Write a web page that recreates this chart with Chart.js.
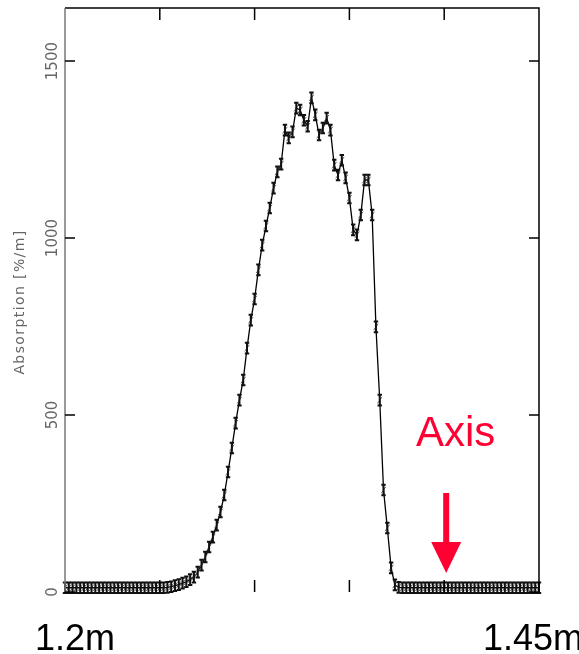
<!DOCTYPE html>
<html>
<head>
<meta charset="utf-8">
<script src="https://cdn.jsdelivr.net/npm/chart.js@4/dist/chart.umd.min.js"></script>
<style>
  html,body{margin:0;padding:0;background:#fff;overflow:hidden;}
  canvas{display:block;}
</style>
</head>
<body>
<canvas id="c" width="579" height="654"></canvas>
<script>
// position along the beam [m]
const xs = [
  1.200,1.202,1.204,1.206,1.208,1.210,1.212,1.214,1.216,1.218,
  1.220,1.222,1.224,1.226,1.228,1.230,1.232,1.234,1.236,1.238,
  1.240,1.242,1.244,1.246,1.248,1.250,1.252,1.254,1.256,1.258,
  1.260,1.262,1.264,1.266,1.268,1.270,1.272,1.274,1.276,1.278,
  1.280,1.282,1.284,1.286,1.288,1.290,1.292,1.294,1.296,1.298,
  1.300,1.302,1.304,1.306,1.308,1.310,1.312,1.314,1.316,1.318,
  1.320,1.322,1.324,1.326,1.328,1.330,1.332,1.334,1.336,1.338,
  1.340,1.342,1.344,1.346,1.348,1.350,1.352,1.354,1.356,1.358,
  1.360,1.362,1.364,1.366,1.368,1.370,1.372,1.374,1.376,1.378,
  1.380,1.382,1.384,1.386,1.388,1.390,1.392,1.394,1.396,1.398,
  1.400,1.402,1.404,1.406,1.408,1.410,1.412,1.414,1.416,1.418,
  1.420,1.422,1.424,1.426,1.428,1.430,1.432,1.434,1.436,1.438,
  1.440,1.442,1.444,1.446,1.448,1.450
];
// absorption [%/m]
const absorption = [
  12,12,12,12,12,12,12,12,12,12,
  12,12,12,12,12,12,12,12,12,12,
  12,12,12,12,12,12,12,13,15,18,
  21,25,29,35,42,56,76,99,127,155,
  189,226,274,339,407,477,542,599,689,768,
  828,910,980,1034,1085,1141,1187,1209,1305,1283,
  1300,1367,1362,1333,1316,1396,1348,1291,1311,1339,
  1305,1206,1178,1220,1170,1113,1023,1009,1065,1164,
  1164,1065,749,542,288,181,68,20,13,12,
  12,12,12,12,12,12,12,12,12,12,
  12,12,12,12,12,12,12,12,12,12,
  12,12,12,12,12,12,12,12,12,12,
  12,12,12,12,12,12
];
const ERR = 15;
const yTicks = [0, 500, 1000, 1500];
const xTicks = [1.25, 1.30, 1.35, 1.40];
const xLabels = [{t:"1.2m", x:35}, {t:"1.45m", x:483}];
const ARROW_AT = 1.40;

const decor = {
  id: "decor",
  afterDatasetsDraw(chart){
    const ctx = chart.ctx, xS = chart.scales.x, yS = chart.scales.y;
    ctx.save();
    ctx.strokeStyle = "#111";
    ctx.lineWidth = 2;
    xs.forEach((v,i)=>{
      const px = xS.getPixelForValue(v);
      const y1 = yS.getPixelForValue(absorption[i]-ERR);
      const y2 = yS.getPixelForValue(absorption[i]+ERR);
      ctx.beginPath();
      ctx.moveTo(px,y1); ctx.lineTo(px,y2);
      ctx.moveTo(px-2.2,y1); ctx.lineTo(px+2.2,y1);
      ctx.moveTo(px-2.2,y2); ctx.lineTo(px+2.2,y2);
      ctx.stroke();
    });
    ctx.restore();
  },
  afterDraw(chart){
    const ctx = chart.ctx, a = chart.chartArea;
    const xS = chart.scales.x, yS = chart.scales.y;
    ctx.save();
    // frame
    ctx.lineWidth = 1.5;
    ctx.strokeStyle = "#000";
    ctx.beginPath();
    ctx.moveTo(a.left, a.top); ctx.lineTo(a.right, a.top); ctx.lineTo(a.right, a.bottom);
    ctx.stroke();
    ctx.strokeStyle = "#777";
    ctx.beginPath(); ctx.moveTo(a.left, a.top); ctx.lineTo(a.left, a.bottom); ctx.stroke();

    // x ticks (top and bottom, inside)
    ctx.strokeStyle = "#000";
    xTicks.forEach(v=>{
      const px = xS.getPixelForValue(v);
      ctx.beginPath();
      ctx.moveTo(px, a.top); ctx.lineTo(px, a.top+12);
      ctx.moveTo(px, a.bottom); ctx.lineTo(px, a.bottom-12);
      ctx.stroke();
    });

    // y ticks + rotated labels
    ctx.font = "15px 'DejaVu Sans'";
    ctx.fillStyle = "#666";
    ctx.textAlign = "center";
    ctx.textBaseline = "middle";
    yTicks.forEach(v=>{
      const py = yS.getPixelForValue(v);
      ctx.beginPath();
      ctx.moveTo(a.left, py); ctx.lineTo(a.left+10, py);
      ctx.moveTo(a.right, py); ctx.lineTo(a.right-10, py);
      ctx.stroke();
      ctx.save();
      ctx.translate(53, py);
      ctx.rotate(-Math.PI/2);
      ctx.fillText(String(v), 0, 0);
      ctx.restore();
    });

    // y title
    ctx.save();
    ctx.font = "14px 'DejaVu Sans'";
    ctx.letterSpacing = "1.4px";
    ctx.fillStyle = "#666";
    ctx.translate(20, 302);
    ctx.rotate(-Math.PI/2);
    ctx.fillText("Absorption [%/m]", 0, 0);
    ctx.restore();

    // big x labels
    ctx.font = "36px 'Liberation Sans', Arial, sans-serif";
    ctx.fillStyle = "#000";
    ctx.textAlign = "left";
    ctx.textBaseline = "alphabetic";
    xLabels.forEach(l=>ctx.fillText(l.t, l.x, 650));

    // red "Axis" marker with arrow
    const red = "#ff0033";
    const ax = xS.getPixelForValue(ARROW_AT) + 2;
    ctx.fillStyle = red;
    ctx.font = "42px 'Liberation Sans', Arial, sans-serif";
    ctx.fillText("Axis", 416, 446);
    ctx.fillRect(ax-3, 493, 6, 52);
    ctx.beginPath();
    ctx.moveTo(ax-15, 542); ctx.lineTo(ax+15, 542); ctx.lineTo(ax, 573);
    ctx.closePath(); ctx.fill();
    ctx.restore();
  }
};

new Chart(document.getElementById("c"), {
  type: "line",
  data: {
    datasets: [{
      data: xs.map((x,i)=>({x, y: absorption[i]})),
      borderColor: "#000",
      borderWidth: 1.3,
      tension: 0,
      pointStyle: "line",
      pointRotation: -55,
      pointRadius: 4,
      pointBorderColor: "#666",
      pointBorderWidth: 1
    }]
  },
  options: {
    responsive: false,
    animation: false,
    layout: { padding: { left: 65, top: 8, right: 40, bottom: 62 } },
    plugins: { legend: { display: false }, tooltip: { enabled: false } },
    scales: {
      x: { type: "linear", min: 1.2, max: 1.45, display: false },
      y: { min: 0, max: 1650, display: false }
    }
  },
  plugins: [decor]
});
</script>
</body>
</html>
